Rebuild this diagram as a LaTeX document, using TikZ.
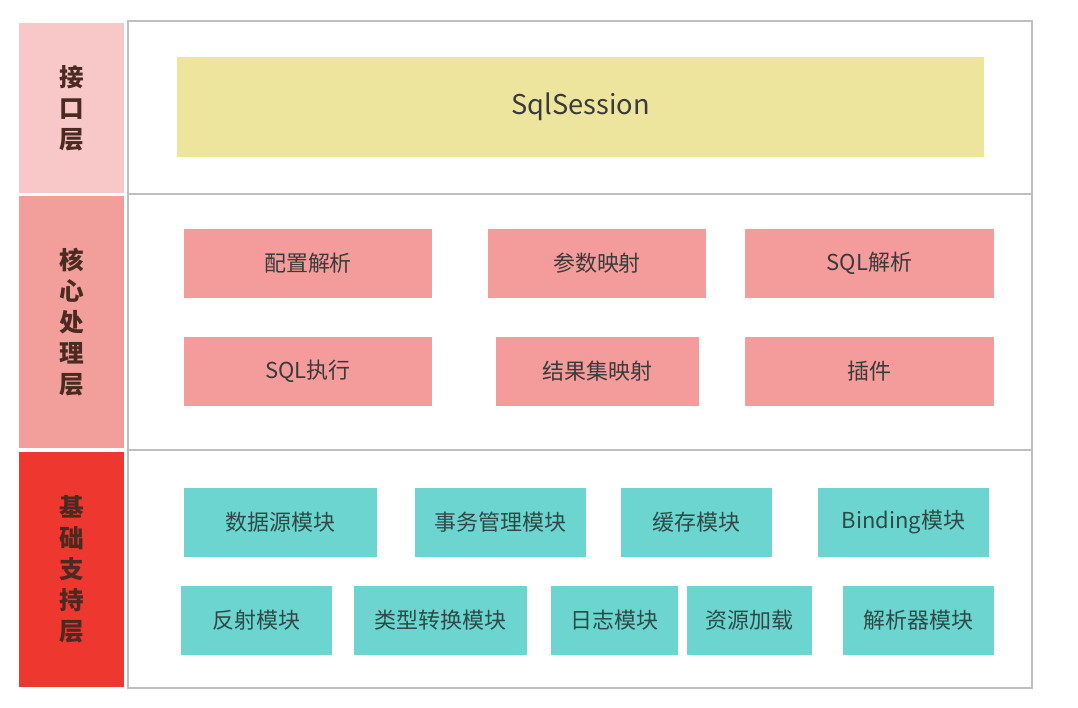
\documentclass[tikz,border=0pt]{standalone}
\usepackage{fontspec}
\newfontfamily\cjk{Noto Sans CJK SC}
\usepackage{tikz}
\usetikzlibrary{positioning,calc}
\definecolor{ifacepink}{HTML}{F8C8C9}
\definecolor{corepink}{HTML}{F29E9B}
\definecolor{basered}{HTML}{EE372F}
\definecolor{sessionyellow}{HTML}{EDE49E}
\definecolor{coresalmon}{HTML}{F49C9B}
\definecolor{baseteal}{HTML}{6DD5CF}
\definecolor{labelbrown}{HTML}{4B2A22}
\definecolor{framegray}{HTML}{BFBFBF}
\definecolor{boxtext}{HTML}{3A3A3A}
\definecolor{tealtext}{HTML}{2D4A48}

\begin{document}
\begin{tikzpicture}[
  x=0.02cm,y=-0.02cm,
  layer/.style={rectangle,fill=#1,minimum width=2.1cm,inner sep=0pt,
    text=labelbrown,align=center,font={\cjk\bfseries\fontsize{14}{17.6}\selectfont}},
  module/.style={rectangle,fill=#1,inner sep=0pt,minimum height=1.38cm,
    font={\cjk\fontsize{12.5}{15}\selectfont}},
  module/.default={baseteal},
  core/.style={module=coresalmon,text=boxtext},
  base/.style={module=baseteal,text=tealtext},
  frame/.style={draw=framegray,line width=1.3pt},
]
  \useasboundingbox[fill=white] (0,0) rectangle (1078,707);
  \node[layer=ifacepink,minimum height=3.4cm] (iface) at (71.5,108) {接\\口\\层};
  \node[layer=corepink,minimum height=5.04cm] (corel) at (71.5,322) {核\\心\\处\\理\\层};
  \node[layer=basered,minimum height=4.7cm] (basel) at (71.5,569.5) {基\\础\\支\\持\\层};
  \draw[frame] (128,21) rectangle (1032,688);
  \draw[frame] (128,194) -- (1032,194);
  \draw[frame] (128,450) -- (1032,450);
  \node[rectangle,fill=sessionyellow,minimum width=16.14cm,minimum height=2cm,
    text=boxtext,font={\cjk\fontsize{15.5}{18}\selectfont}] (session) at (580.5,107) {SqlSession};
  \node[core,minimum width=4.96cm] (config) at (308,263.5) {配置解析};
  \node[core,minimum width=4.36cm] (param) at (597,263.5) {参数映射};
  \node[core,minimum width=4.98cm] (sqlparse) at (869.5,263.5) {SQL解析};
  \node[core,minimum width=4.96cm] (sqlexec) at (308,371) {SQL执行};
  \node[core,minimum width=4.06cm] (result) at (597.5,371) {结果集映射};
  \node[core,minimum width=4.98cm] (plugin) at (869.5,371) {插件};
  \node[base,minimum width=3.86cm] (datasrc) at (280.5,522.5) {数据源模块};
  \node[base,minimum width=3.42cm] (trans) at (500.5,522.5) {事务管理模块};
  \node[base,minimum width=3.02cm] (cache) at (696.5,522.5) {缓存模块};
  \node[base,minimum width=3.42cm] (binding) at (903.5,522.5) {Binding模块};
  \node[base,minimum width=3.02cm] (reflect) at (256.5,620) {反射模块};
  \node[base,minimum width=3.46cm] (typeconv) at (440.5,620) {类型转换模块};
  \node[base,minimum width=2.54cm] (logging) at (614.5,620) {日志模块};
  \node[base,minimum width=2.5cm] (resload) at (749.5,620) {资源加载};
  \node[base,minimum width=3.02cm] (parser) at (918.5,620) {解析器模块};
\end{tikzpicture}
\end{document}
